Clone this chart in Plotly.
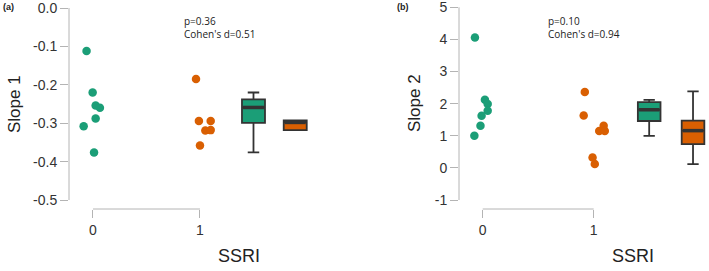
import plotly.graph_objects as go

# ---- data ----
groups = ["0", "1"]

# Panel (a): Slope 1
a_g0_x = [-0.06, -0.003, 0.025, 0.065, 0.025, -0.087, 0.01]
a_g0_y = [-0.112, -0.220, -0.254, -0.260, -0.288, -0.308, -0.376]
a_g1_x = [0.963, 0.99, 1.10, 1.05, 1.10, 1.0]
a_g1_y = [-0.185, -0.294, -0.294, -0.319, -0.318, -0.358]
a_box_pos = [1.5, 1.89]
a_box_q1 = [-0.299, -0.318]
a_box_med = [-0.259, -0.298]
a_box_q3 = [-0.238, -0.293]
a_box_lo = [-0.376, -0.318]
a_box_hi = [-0.220, -0.293]

# Panel (b): Slope 2
b_g0_x = [-0.07, 0.02, 0.045, 0.045, -0.01, -0.02, -0.075]
b_g0_y = [4.06, 2.12, 1.99, 1.78, 1.62, 1.31, 1.00]
b_g1_x = [0.92, 0.91, 1.09, 1.05, 1.10, 0.99, 1.01]
b_g1_y = [2.36, 1.63, 1.31, 1.15, 1.15, 0.32, 0.12]
b_box_pos = [1.5, 1.895]
b_box_q1 = [1.46, 0.74]
b_box_med = [1.81, 1.16]
b_box_q3 = [2.05, 1.47]
b_box_lo = [1.00, 0.12]
b_box_hi = [2.12, 2.38]

a_yticks = [0.0, -0.1, -0.2, -0.3, -0.4, -0.5]
a_yticktext = ["0.0", "-0.1", "-0.2", "-0.3", "-0.4", "-0.5"]
b_yticks = [5, 4, 3, 2, 1, 0, -1]
b_yticktext = ["5", "4", "3", "2", "1", "0", "-1"]

stats_a = ["p=0.36", "Cohen's d=0.51"]
stats_b = ["p=0.10", "Cohen's d=0.94"]

GREEN = "#1b9e77"
ORANGE = "#d95f02"
DARK = "#333333"
AXC = "#b4b4b4"
W, H = 709, 271

fig = go.Figure()

def add_panel(xa, ya, g0x, g0y, g1x, g1y, pos, q1, med, q3, lo, hi, bw):
    fig.add_trace(go.Scatter(x=g0x, y=g0y, mode="markers", xaxis=xa, yaxis=ya,
                             marker=dict(color=GREEN, size=8.5), showlegend=False))
    fig.add_trace(go.Scatter(x=g1x, y=g1y, mode="markers", xaxis=xa, yaxis=ya,
                             marker=dict(color=ORANGE, size=8.5), showlegend=False))
    for i, col in enumerate([GREEN, ORANGE]):
        fig.add_trace(go.Box(x=[pos[i]], q1=[q1[i]], median=[med[i]], q3=[q3[i]],
                             lowerfence=[lo[i]], upperfence=[hi[i]],
                             xaxis=xa, yaxis=ya, width=bw, whiskerwidth=0.5,
                             fillcolor=col, line=dict(color=DARK, width=1.8),
                             boxpoints=False, showlegend=False, hoverinfo="skip"))
        # thick median bar
        fig.add_trace(go.Scatter(x=[pos[i] - bw / 2 + 0.01, pos[i] + bw / 2 - 0.01],
                                 y=[med[i], med[i]], mode="lines", xaxis=xa, yaxis=ya,
                                 line=dict(color=DARK, width=3.5), showlegend=False,
                                 hoverinfo="skip"))

add_panel("x", "y", a_g0_x, a_g0_y, a_g1_x, a_g1_y, a_box_pos, a_box_q1, a_box_med,
          a_box_q3, a_box_lo, a_box_hi, 0.215)
add_panel("x2", "y2", b_g0_x, b_g0_y, b_g1_x, b_g1_y, b_box_pos, b_box_q1, b_box_med,
          b_box_q3, b_box_lo, b_box_hi, 0.204)

ydom = [(H - 209) / H, (H - 5) / H]
tickfont = dict(family="Liberation Sans, Arial", size=14, color="#333333")
common_x = dict(showgrid=False, zeroline=False, showline=False, ticks="outside",
                ticklen=8, tickcolor=AXC, tickwidth=1, tickfont=tickfont,
                tickvals=[0, 1], ticktext=groups, automargin=False, fixedrange=True,
                ticklabeloverflow="allow")
common_y = dict(showgrid=False, zeroline=False, showline=False, ticks="outside",
                ticklen=8, tickcolor=AXC, tickwidth=1, tickfont=tickfont,
                automargin=False, domain=ydom, fixedrange=True,
                ticklabeloverflow="allow")

fig.update_layout(
    width=W, height=H, margin=dict(l=0, r=0, t=0, b=0),
    paper_bgcolor="white", plot_bgcolor="white", showlegend=False,
    xaxis=dict(**common_x, domain=[69 / W, 330 / W], range=[-0.224, 2.215], anchor="y"),
    yaxis=dict(**common_y, range=[-0.5234, 0.0078], tickvals=a_yticks,
               ticktext=a_yticktext, anchor="x"),
    xaxis2=dict(**common_x, domain=[459 / W, 708 / W], range=[-0.2135, 2.03], anchor="y2"),
    yaxis2=dict(**common_y, range=[-1.28, 5.072], tickvals=b_yticks,
                ticktext=b_yticktext, anchor="x2"),
)

# axis lines spanning only the tick range (R style)
for xr, yr, yt, xt in [("x", "y", a_yticks, [0, 1]), ("x2", "y2", b_yticks, [0, 1])]:
    fig.add_shape(type="line", xref=xr + " domain", yref=yr, x0=0, x1=0,
                  y0=min(yt), y1=max(yt), line=dict(color=AXC, width=1))
    fig.add_shape(type="line", xref=xr, yref=yr + " domain", x0=min(xt), x1=max(xt),
                  y0=0, y1=0, line=dict(color=AXC, width=1))

def ann(text, x, y, size, bold=False, angle=0, xanchor="center", family="Liberation Sans, Arial"):
    fig.add_annotation(text=("<b>%s</b>" % text) if bold else text,
                       x=x / W, y=1 - y / H, xref="paper", yref="paper",
                       xanchor=xanchor, yanchor="middle", showarrow=False,
                       textangle=angle, font=dict(family=family, size=size, color="#222222"))

ann("(a)", 1, 7, 9, bold=True, xanchor="left")
ann("(b)", 395, 7, 9, bold=True, xanchor="left")
ann("Slope 1", 14, 104, 17, angle=-90)
ann("Slope 2", 415, 103, 17, angle=-90)
ann("SSRI", 239, 256, 18)
ann("SSRI", 633, 256, 18)
ann(stats_a[0], 182, 21, 10, xanchor="left", family="Open Sans")
ann(stats_a[1], 182, 34, 10, xanchor="left", family="Open Sans")
ann(stats_b[0], 546, 21, 10, xanchor="left", family="Open Sans")
ann(stats_b[1], 546, 34, 10, xanchor="left", family="Open Sans")

fig.write_html("out.html", config={"displayModeBar": False},
               post_script="document.body.style.margin='0px';")
